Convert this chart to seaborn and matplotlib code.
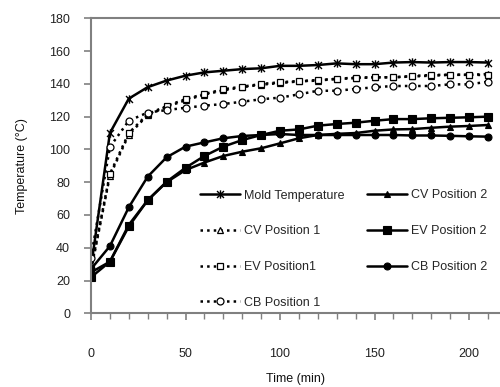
import matplotlib
matplotlib.use("Agg")
import matplotlib.pyplot as plt
from matplotlib.path import Path
import seaborn as sns
import pandas as pd

time = [0, 10, 20, 30, 40, 50, 60, 70, 80, 90, 100, 110, 120, 130, 140, 150, 160, 170, 180, 190, 200, 210]
mold = [28, 110, 131, 138, 142, 145, 147, 148, 149, 149.5, 151, 151, 151.5, 152.5, 152, 152, 153, 153.3, 153, 153.3, 153.3, 153]
cv1 = [26, 84, 109, 121, 126, 130, 133.5, 136, 138, 139.5, 140.5, 141.5, 142, 143, 143.5, 144, 144, 144.5, 145, 145.5, 145.5, 146]
ev1 = [27, 85, 110, 121.5, 126.5, 130.7, 133.8, 136.7, 138.3, 139.9, 141, 141.7, 142.3, 143.1, 143.8, 144, 144, 144.8, 145.4, 145.6, 145.6, 145.3]
cb1 = [34, 101.5, 117.5, 122.5, 124, 125.4, 126.7, 127.7, 129.1, 130.6, 131.6, 133.6, 135.8, 135.8, 136.9, 137.9, 138.7, 138.7, 138.7, 139.7, 139.7, 141.3]
cv2 = [25, 31.5, 54, 69, 80, 87.4, 92, 96, 98.6, 100.7, 103.7, 106.8, 108.8, 109.5, 110, 111.4, 112.2, 112.4, 113.2, 113.9, 114.3, 114.9]
ev2 = [22, 31.5, 53, 69, 80.3, 88.8, 96, 101.7, 105.7, 108.8, 111.4, 112.2, 114.5, 115.5, 116.3, 117.5, 118.5, 118.5, 119, 119.3, 119.6, 120]
cb2 = [27, 41, 64.7, 83.4, 95.2, 101.7, 104.3, 106.8, 108.2, 108.8, 109.4, 108.8, 108.8, 108.8, 108.8, 108.8, 108.8, 108.5, 108.5, 108.3, 108, 107.8]

labels = ["Mold Temperature", "CV Position 1", "EV Position1", "CB Position 1",
          "CV Position 2", "EV Position 2", "CB Position 2"]

sns.set_style("white")
plt.rcParams["font.family"] = ["Liberation Sans", "DejaVu Sans"]

star = Path([(-1, -1), (1, 1), (-1, 1), (1, -1), (0, -1.2), (0, 1.2)],
            [Path.MOVETO, Path.LINETO, Path.MOVETO, Path.LINETO, Path.MOVETO, Path.LINETO])

styles = [
    dict(marker=star, linestyle="-", ms=6, mfc="black", mew=1.0),
    dict(marker="^", linestyle=":", ms=5, mfc="white", mew=0.9),
    dict(marker="s", linestyle=":", ms=5, mfc="white", mew=0.9),
    dict(marker="o", linestyle=":", ms=5, mfc="white", mew=0.9),
    dict(marker="^", linestyle="-", ms=4.5, mfc="black", mew=0.8),
    dict(marker="s", linestyle="-", ms=5.5, mfc="black", mew=0.8),
    dict(marker="o", linestyle="-", ms=5, mfc="black", mew=0.8),
]
series = [mold, cv1, ev1, cb1, cv2, ev2, cb2]

fig = plt.figure(figsize=(5, 3.87), dpi=100)
ax = fig.add_axes([0.182, 0.1904, 0.818, 0.7623])

for vals, lab, st in zip(series, labels, styles):
    df = pd.DataFrame({"t": time, "v": vals})
    sns.lineplot(data=df, x="t", y="v", ax=ax, color="black", label=lab,
                 marker=st["marker"], linestyle=st["linestyle"], linewidth=1.8,
                 markersize=st["ms"], markerfacecolor=st["mfc"],
                 markeredgecolor="black", markeredgewidth=st["mew"])

ax.set_xlim(0, 216.4)
ax.set_ylim(0, 180)
ax.set_xticks([0, 50, 100, 150, 200])
ax.set_xticks(list(range(0, 217, 10)), minor=True)
ax.set_yticks(list(range(0, 181, 20)))

gray = "#808080"
for side in ["left", "bottom", "top"]:
    ax.spines[side].set_color(gray)
    ax.spines[side].set_linewidth(1.5)
ax.spines["right"].set_visible(False)

ax.tick_params(axis="x", which="major", direction="out", length=5, width=1.2,
               color=gray, pad=20, labelsize=9, labelcolor="#222222", bottom=True)
ax.tick_params(axis="x", which="minor", direction="out", length=4, width=1.0,
               color=gray, bottom=True)
ax.tick_params(axis="y", which="major", direction="out", length=5, width=1.2,
               color=gray, pad=10, labelsize=9, labelcolor="#222222", left=True)

ax.set_xlabel("Time (min)", fontsize=9, color="#111111", labelpad=9)
ax.set_ylabel("Temperature (°C)", fontsize=9, color="#111111", labelpad=15)

handles, labs = ax.get_legend_handles_labels()
ax.legend(handles, labs, ncol=2, frameon=False, fontsize=9,
          loc="upper left", bbox_to_anchor=(200 / 500, 1 - 189.5 / 387),
          bbox_transform=fig.transFigure, borderpad=0, borderaxespad=0,
          labelspacing=1.9, handlelength=3.2, handletextpad=0.3,
          columnspacing=1.85)

fig.savefig("out.png", dpi=100)
